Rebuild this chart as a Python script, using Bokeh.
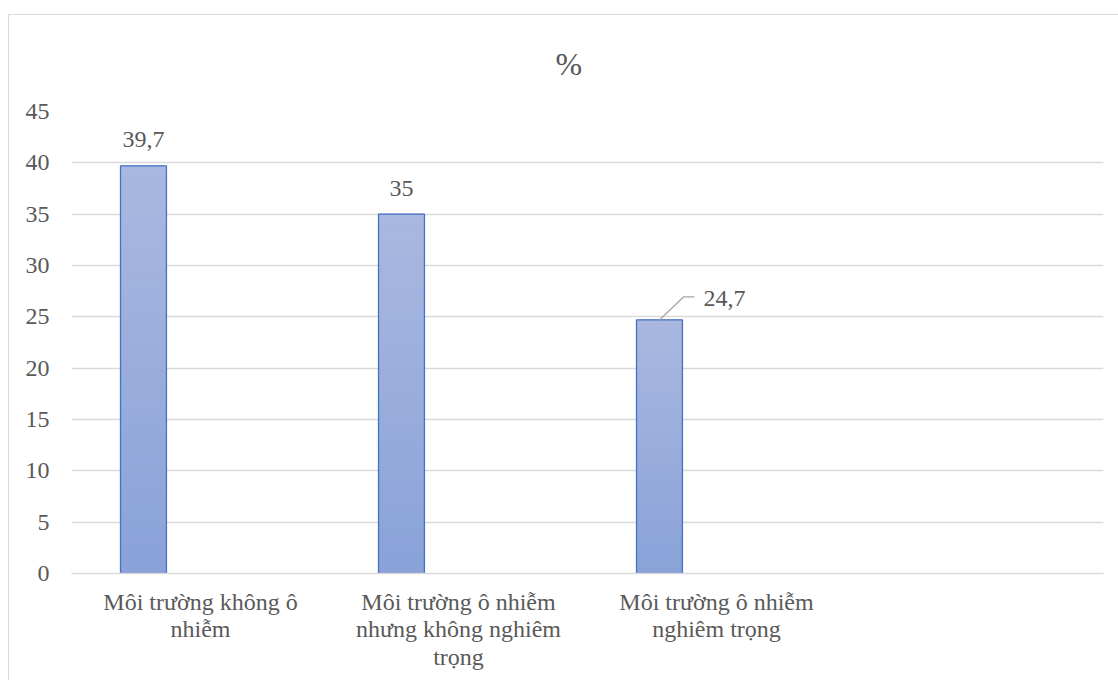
from bokeh.plotting import figure
from bokeh.models import FixedTicker, Spacer, ColumnDataSource
from bokeh.layouts import column, row
from bokeh.embed import file_html
from bokeh.resources import INLINE
from bokeh.core.properties import value

# ---- data ----
categories = [
    "Môi trường không ô\nnhiễm",
    "Môi trường ô nhiễm\nnhưng không nghiêm\ntrọng",
    "Môi trường ô nhiễm\nnghiêm trọng",
    "",
]
values = [39.7, 35, 24.7]
value_labels = ["39,7", "35", "24,7"]
y_ticks = [0, 5, 10, 15, 20, 25, 30, 35, 40, 45]
title_text = "%"

# ---- style ----
FONT = "'Liberation Serif', 'Times New Roman', serif"
TXT = "#595959"
GRID = "#D9D9D9"
TOP_RGB = (169, 184, 224)
BOT_RGB = (138, 162, 217)
EDGE = "#4472C4"
BAR_W = 0.178
BAR_SHIFT = -0.221

W, H = 1110, 666
n_cat = len(categories)
p = figure(width=W, height=H, x_range=(0, n_cat), y_range=(0, max(y_ticks)),
           output_backend="svg", toolbar_location=None,
           min_border_left=62, min_border_right=16,
           min_border_top=96, min_border_bottom=108)
p.outline_line_color = None
p.background_fill_color = "white"
p.border_fill_color = "white"

# title
p.title.text = title_text
p.title.align = "left"
p.title.vertical_align = "top"
p.title.offset = 484
p.title.text_font = FONT
p.title.text_font_size = "32px"
p.title.text_font_style = "normal"
p.title.text_color = TXT
p.title.standoff = 56

# axes
p.yaxis.ticker = FixedTicker(ticks=y_ticks)
p.yaxis.axis_line_color = None
p.yaxis.major_tick_line_color = None
p.yaxis.minor_tick_line_color = None
p.yaxis.major_label_standoff = 16
p.yaxis.major_label_text_font = FONT
p.yaxis.major_label_text_font_size = "24px"
p.yaxis.major_label_text_color = TXT

centers = [i + 0.5 for i in range(n_cat)]
p.xaxis.ticker = FixedTicker(ticks=centers)
p.xaxis.major_label_overrides = {c: lab for c, lab in zip(centers, categories)}
p.xaxis.axis_line_color = GRID
p.xaxis.axis_line_width = 1.3
p.xaxis.major_tick_line_color = None
p.xaxis.minor_tick_line_color = None
p.xaxis.major_label_standoff = 9
p.xaxis.major_label_text_font = FONT
p.xaxis.major_label_text_font_size = "24px"
p.xaxis.major_label_text_color = TXT
p.xaxis.major_label_text_line_height = 1.06

p.xgrid.grid_line_color = None
p.ygrid.ticker = FixedTicker(ticks=y_ticks)
p.ygrid.grid_line_color = GRID
p.ygrid.grid_line_width = 1.3

# bars with vertical gradient (slices)
bar_x = [i + 0.5 + BAR_SHIFT for i in range(len(values))]
N = 40
sx, sb, st, sc = [], [], [], []
for xv, v in zip(bar_x, values):
    for k in range(N):
        t = (k + 0.5) / N
        r = round(BOT_RGB[0] + (TOP_RGB[0] - BOT_RGB[0]) * t)
        g = round(BOT_RGB[1] + (TOP_RGB[1] - BOT_RGB[1]) * t)
        b = round(BOT_RGB[2] + (TOP_RGB[2] - BOT_RGB[2]) * t)
        col = "#%02x%02x%02x" % (r, g, b)
        sx.append(xv); sb.append(v * k / N); st.append(v * (k + 1) / N); sc.append(col)
slices = ColumnDataSource(dict(x=sx, bottom=sb, top=st, color=sc))
p.vbar(x="x", bottom="bottom", top="top", width=BAR_W, source=slices,
       fill_color="color", line_color="color", line_width=1.0)
p.vbar(x=bar_x, top=values, width=BAR_W, fill_color=None,
       line_color=EDGE, line_width=1.3)

# data labels
p.text(x=bar_x[:2], y=values[:2], text=value_labels[:2],
       text_font=value(FONT), text_font_size="24px", text_color=TXT,
       text_align="center", text_baseline="alphabetic", y_offset=-26)
p.text(x=[bar_x[2]], y=[values[2]], text=[value_labels[2]],
       text_font=value(FONT), text_font_size="24px", text_color=TXT,
       text_align="left", text_baseline="alphabetic", x_offset=44, y_offset=-21)

# leader line for third label
px_per_x = 1032 / 4.0
px_per_y = 462 / 45.0
lx = [bar_x[2], bar_x[2] + 24 / px_per_x, bar_x[2] + 35 / px_per_x]
ly = [values[2], values[2] + 23 / px_per_y, values[2] + 23 / px_per_y]
p.line(x=lx, y=ly, line_color="#A6A6A6", line_width=1.3)

p.styles = {"border-left": "1.3px solid #D9D9D9", "border-top": "1.3px solid #D9D9D9"}

layout = row(Spacer(width=8, height=680), column(Spacer(height=14, width=W), p))
open("out.html", "w").write(file_html(layout, INLINE))
